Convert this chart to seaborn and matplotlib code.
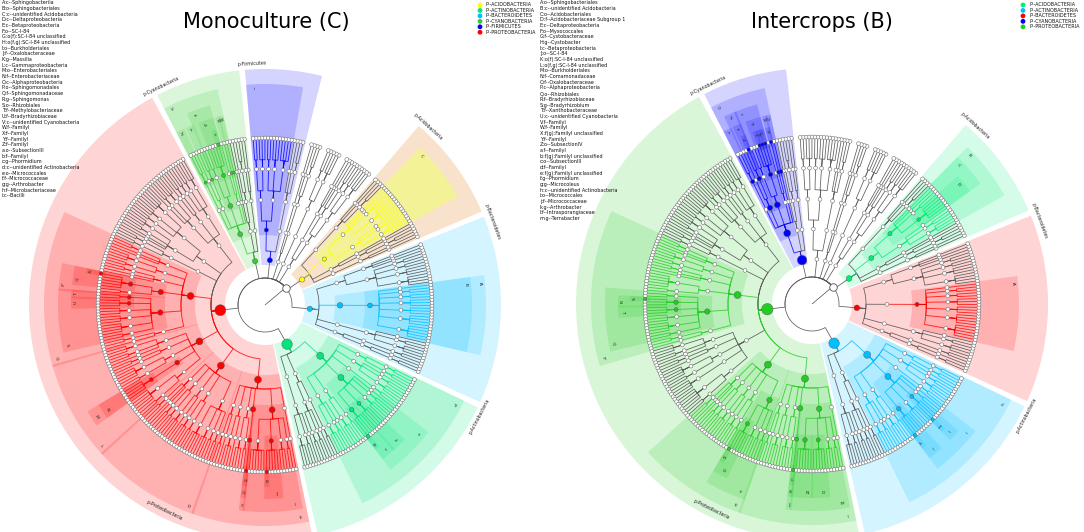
import numpy as np
import pandas as pd
import matplotlib
matplotlib.use("Agg")
import matplotlib.pyplot as plt
from matplotlib.collections import LineCollection, PolyCollection
import seaborn as sns

# ---------------------------------------------------------------- data
phylum_names = ["Bacteroidetes", "Acidobacteria", "Chloroflexi", "Gemmatimonadetes",
                "Planctomycetes", "Firmicutes", "Cyanobacteria", "Proteobacteria",
                "Actinobacteria"]
# taxonomy: phylum -> classes -> orders -> families (int = number of genera)
bacteroidetes = [[[2, 1], [2]], [[3, 2, 1]], [[5, 4, 3, 3, 2, 2, 1]], [[4, 3, 2, 2], [1, 1, 1]]]
acidobacteria = [[[1, 1]], [[2, 1], [1]], [[3, 2, 1], [5, 2, 1, 1]], [[2, 1, 1]]]
chloroflexi = [[[3, 2], [2, 1]], [[1, 1]]]
gemmatimonadetes = [[[3, 2]]]
planctomycetes = [[[2, 1]], [[1]]]
firmicutes = [[[2, 1, 1]], [[4, 3, 2], [3, 2]]]
cyanobacteria = [[[1, 1]], [[2, 1], [1]], [[1], [1, 1], [4, 2], [2, 1], [2]]]
proteobacteria = [[[3, 2, 2], [2, 1], [3, 2, 1]],
                  [[4, 3, 2], [3, 2, 1, 1]],
                  [[2, 2]],
                  [[2, 1, 1], [3, 2], [2, 1, 1], [5, 2], [2, 3, 3, 3, 4, 2], [2, 1]],
                  [[3, 2, 1], [2, 1], [4, 2], [4], [5, 2]],
                  [[2, 1, 1], [2, 2], [3, 1], [3, 2], [4, 3, 2, 2]],
                  [[2, 1], [3, 1], [3, 2], [1], [6, 5, 3, 2], [1]]]
actinobacteria = [[[3, 2, 1]], [[2, 2, 1], [2]],
                  [[3, 2, 1], [3, 2], [4, 4, 3, 2, 1], [2], [3, 2, 1], [2, 2]]]
trees = [bacteroidetes, acidobacteria, chloroflexi, gemmatimonadetes, planctomycetes,
         firmicutes, cyanobacteria, proteobacteria, actinobacteria]

# biomarkers: (label, taxonomy path, relative abundance weight)
left_highlights = [
    ("p-Bacteroidetes", (0,), 0.55), ("A", (0, 2), 0.8), ("B", (0, 2, 0), 0.8),
    ("p-Acidobacteria", (1,), 0.55), ("C", (1, 2), 0.6),
    ("p-Firmicutes", (5,), 0.55), ("i", (5, 1), 0.6),
    ("p-Cyanobacteria", (6,), 0.55), ("V", (6, 2), 0.7), ("W", (6, 2, 0, 0), 0.6),
    ("X", (6, 2, 1, 0), 0.6), ("Y", (6, 2, 3, 0), 0.6), ("Z", (6, 2, 4, 0), 0.6),
    ("a", (6, 2, 2), 0.8), ("b", (6, 2, 2, 0), 0.8), ("c", (6, 2, 2, 0, 0), 0.8),
    ("p-Proteobacteria", (7,), 1.15), ("D", (7, 5), 1.0), ("E", (7, 6), 1.0),
    ("F", (7, 6, 3), 0.9), ("G", (7, 6, 3, 0), 0.9), ("H", (7, 6, 3, 0, 0), 0.9),
    ("I", (7, 6, 4), 1.0), ("J", (7, 6, 4, 1), 0.9), ("K", (7, 6, 4, 1, 0), 0.9),
    ("L", (7, 4), 1.0), ("M", (7, 4, 3), 0.8), ("N", (7, 4, 3, 0), 0.8),
    ("O", (7, 3), 1.0), ("P", (7, 3, 3), 0.9), ("Q", (7, 3, 3, 0), 0.9),
    ("R", (7, 3, 3, 0, 0), 0.9), ("S", (7, 3, 4), 0.9), ("T", (7, 3, 4, 0), 0.8),
    ("U", (7, 3, 4, 1), 0.8),
    ("p-Actinobacteria", (8,), 1.1), ("d", (8, 2), 1.0), ("e", (8, 2, 2), 1.0),
    ("f", (8, 2, 2, 0), 0.9), ("g", (8, 2, 2, 0, 0), 0.9), ("h", (8, 2, 2, 1), 0.8),
]
right_highlights = [
    ("p-Bacteroidetes", (0,), 0.6), ("A", (0, 2, 0), 0.7),
    ("p-Acidobacteria", (1,), 0.6), ("B", (1, 2), 0.7), ("C", (1, 2, 1), 0.7),
    ("D", (1, 2, 1, 0), 0.7),
    ("p-Cyanobacteria", (6,), 1.0), ("U", (6, 2), 1.0), ("V", (6, 2, 0, 0), 0.8),
    ("W", (6, 2, 1, 0), 0.8), ("X", (6, 2, 1, 0, 0), 0.8), ("Y", (6, 2, 4, 0), 0.8),
    ("Z", (6, 2, 3), 0.9), ("a", (6, 2, 3, 0), 0.9), ("b", (6, 2, 3, 0, 0), 0.8),
    ("c", (6, 2, 2), 1.0), ("d", (6, 2, 2, 0), 0.9), ("e", (6, 2, 2, 0, 2), 0.8),
    ("f", (6, 2, 2, 0, 0), 0.8), ("g", (6, 2, 2, 0, 1), 0.8),
    ("p-Proteobacteria", (7,), 1.2), ("E", (7, 5), 1.0), ("F", (7, 5, 4), 0.9),
    ("G", (7, 5, 4, 0), 0.8), ("H", (7, 5, 4, 0, 0), 0.8), ("I", (7, 6), 1.0),
    ("J", (7, 6, 3), 0.9), ("K", (7, 6, 3, 0), 0.8), ("L", (7, 6, 3, 0, 0), 0.8),
    ("M", (7, 6, 4), 0.9), ("N", (7, 6, 4, 0), 0.9), ("O", (7, 6, 4, 1), 0.8),
    ("P", (7, 3), 1.0), ("Q", (7, 3, 4), 0.9), ("R", (7, 3, 4, 1), 0.9),
    ("S", (7, 3, 4, 1, 0), 0.8), ("T", (7, 3, 4, 2), 0.8),
    ("p-Actinobacteria", (8,), 1.1), ("h", (8, 2), 1.0), ("i", (8, 2, 2), 1.0),
    ("j", (8, 2, 2, 0), 0.9), ("k", (8, 2, 2, 0, 0), 0.9), ("l", (8, 2, 2, 2), 0.8),
    ("m", (8, 2, 2, 2, 0), 0.8),
]

left_colors = {"Acidobacteria": "#ffff00", "Actinobacteria": "#00e67a",
               "Bacteroidetes": "#00bfff", "Cyanobacteria": "#33cc33",
               "Firmicutes": "#0000ff", "Proteobacteria": "#ff0000"}
right_colors = {"Acidobacteria": "#00ee77", "Actinobacteria": "#00bfff",
                "Bacteroidetes": "#ff0000", "Cyanobacteria": "#0000ff",
                "Proteobacteria": "#22cc22"}

left_names = ["A:c--Sphingobacteriia", "B:o--Sphingobacteriales",
              "C:c--unidentified Acidobacteria", "D:c--Deltaproteobacteria",
              "E:c--Betaproteobacteria", "F:o--SC-I-84", "G:o(f):SC-I-84 unclassified",
              "H:o(f,g):SC-I-84 unclassified", "I:o--Burkholderiales",
              "J:f--Oxalobacteraceae", "K:g--Massilia", "L:c--Gammaproteobacteria",
              "M:o--Enterobacteriales", "N:f--Enterobacteriaceae",
              "O:c--Alphaproteobacteria", "P:o--Sphingomonadales",
              "Q:f--Sphingomonadaceae", "R:g--Sphingomonas", "S:o--Rhizobiales",
              "T:f--Methylobacteriaceae", "U:f--Bradyrhizobiaceae",
              "V:c--unidentified Cyanobacteria", "W:f--FamilyI", "X:f--FamilyI",
              "Y:f--FamilyI", "Z:f--FamilyI", "a:o--SubsectionIII", "b:f--FamilyI",
              "c:g--Phormidium", "d:c--unidentified Actinobacteria",
              "e:o--Micrococcales", "f:f--Micrococcaceae", "g:g--Arthrobacter",
              "h:f--Microbacteriaceae", "i:c--Bacilli"]
right_names = ["A:o--Sphingobacteriales", "B:c--unidentified Acidobacteria",
               "C:o--Acidobacteriales", "D:f--Acidobacteriaceae Subgroup 1",
               "E:c--Deltaproteobacteria", "F:o--Myxococcales", "G:f--Cystobacteraceae",
               "H:g--Cystobacter", "I:c--Betaproteobacteria", "J:o--SC-I-84",
               "K:o(f):SC-I-84 unclassified", "L:o(f,g):SC-I-84 unclassified",
               "M:o--Burkholderiales", "N:f--Comamonadaceae", "O:f--Oxalobacteraceae",
               "P:c--Alphaproteobacteria", "Q:o--Rhizobiales", "R:f--Bradyrhizobiaceae",
               "S:g--Bradyrhizobium", "T:f--Xanthobacteraceae",
               "U:c--unidentified Cyanobacteria", "V:f--FamilyI", "W:f--FamilyI",
               "X:f(g):FamilyI unclassified", "Y:f--FamilyI", "Z:o--SubsectionIV",
               "a:f--FamilyI", "b:f(g):FamilyI unclassified", "c:o--SubsectionIII",
               "d:f--FamilyI", "e:f(g):FamilyI unclassified", "f:g--Phormidium",
               "g:g--Microcoleus", "h:c--unidentified Actinobacteria",
               "i:o--Micrococcales", "j:f--Micrococcaceae", "k:g--Arthrobacter",
               "l:f--Intrasporangiaceae", "m:g--Terrabacter"]

# ---------------------------------------------------------------- style / layout
R = {0: 0.0, 1: 45.0, 2: 75.0, 3: 105.0, 4: 136.0, 5: 167.0}
WR = {1: 236.0, 2: 221.0, 3: 207.0, 4: 194.0, 5: 182.0}
BASE_D = {1: 9.5, 2: 7.0, 3: 6.0, 4: 5.0, 5: 4.3}
ROOT_ARC, ROOT_ANGLE = 27.0, 40.0
PHYLUM_LABEL_POS = {"p-Proteobacteria": (244.0, 229.0)}   # (angle, radius) overrides
PX = 1 / 1.3889  # px -> pt


def count_leaves(spec):
    if isinstance(spec, int):
        return max(spec, 1)
    return sum(count_leaves(s) for s in spec)


def build_tree(trees, start=-24.0, gap=2.0):
    total = sum(count_leaves(t) for t in trees)
    step = (360.0 - gap * len(trees)) / total
    nodes = {}
    state = {"cur": start + step / 2}

    def place(spec, path, level):
        kids = []
        if isinstance(spec, int):
            for g in range(spec):
                p = path + (g,)
                a = state["cur"]
                state["cur"] += step
                nodes[p] = dict(level=level + 1, angle=a, lo=a, hi=a, children=[])
                kids.append(p)
        else:
            for i, s in enumerate(spec):
                p = path + (i,)
                place(s, p, level + 1)
                kids.append(p)
        angs = [nodes[k]["angle"] for k in kids]
        nodes[path] = dict(level=level, angle=float(np.mean(angs)),
                           lo=min(nodes[k]["lo"] for k in kids),
                           hi=max(nodes[k]["hi"] for k in kids), children=kids)

    for i, t in enumerate(trees):
        place(t, (i,), 1)
        state["cur"] += gap
    nodes[()] = dict(level=0, angle=ROOT_ANGLE, lo=0, hi=0,
                     children=[(i,) for i in range(len(trees))])
    return nodes, step


nodes, step = build_tree(trees)

sns.set_theme(style="white")
plt.rcParams["font.family"] = ["DejaVu Sans"]
fig = plt.figure(figsize=(10.84, 5.32), dpi=100)
ax = fig.add_axes([0, 0, 1, 1])
ax.set_xlim(0, 1084)
ax.set_ylim(532, 0)
ax.axis("off")


def draw_panel(cx, cy, highlights, colors, wedge_fill, title, tx, names, lx, legx):
    def xy(r, a):
        t = np.deg2rad(a)
        return (cx + r * np.cos(t), cy - r * np.sin(t))

    hl = {path: (lab, w) for lab, path, w in highlights}

    def pcolor(path):
        return colors[phylum_names[path[0]]]

    # wedges
    polys, fcs = [], []
    for lab, path, w in sorted(highlights, key=lambda h: len(h[1])):
        n = nodes[path]
        L = n["level"]
        a0, a1 = n["lo"] - step / 2 - 0.3, n["hi"] + step / 2 + 0.3
        angs = np.linspace(a0, a1, 80)
        pts = [xy(WR[L], a) for a in angs] + [xy(R[L] - 5, a) for a in angs[::-1]]
        polys.append(pts)
        col = pcolor(path)
        if lab in wedge_fill:
            fcs.append(matplotlib.colors.to_rgba(wedge_fill[lab], 1.0))
        elif col == "#ffff00":
            fcs.append(matplotlib.colors.to_rgba("#f4f490", 0.9))
        else:
            fcs.append(matplotlib.colors.to_rgba(col, 0.17))
    ax.add_collection(PolyCollection(polys, facecolors=fcs, edgecolors="none", zorder=1))

    # edges
    gray, colsegs, colcols = [], [], []
    for p, n in nodes.items():
        if p == ():
            continue
        q = p[:-1]
        pn = nodes[q]
        rq = R[pn["level"]]
        rc = R[n["level"]]
        ra = ROOT_ARC if q == () else rq + 0.3 * (rc - rq)
        pts = [] if q == () else [xy(rq, pn["angle"])]
        k = max(2, int(abs(n["angle"] - pn["angle"]) / 1.5) + 2)
        pts += [xy(ra, a) for a in np.linspace(pn["angle"], n["angle"], k)]
        pts.append(xy(rc, n["angle"]))
        colored = any(p[:j] in hl for j in range(2, len(p) + 1))
        if colored:
            colsegs.append(pts)
            colcols.append(matplotlib.colors.to_rgba(pcolor(p), 0.8))
        else:
            gray.append(pts)
    gray.append([(cx, cy), xy(ROOT_ARC, ROOT_ANGLE)])
    ax.add_collection(LineCollection(gray, colors="#5c5c5c", linewidths=0.55, zorder=2))
    ax.add_collection(LineCollection(colsegs, colors=colcols, linewidths=0.65, zorder=2.5))

    # nodes
    rows = []
    for p, n in nodes.items():
        if p == ():
            continue
        x, y = xy(R[n["level"]], n["angle"])
        if p in hl:
            d = BASE_D[n["level"]] * hl[p][1]
            rows.append((x, y, pcolor(p), (d * PX) ** 2))
        else:
            rows.append((x, y, "#ffffff", (3.8 * PX) ** 2))
    df = pd.DataFrame(rows, columns=["x", "y", "fill", "s"])
    white = df[df.fill == "#ffffff"]
    sns.scatterplot(data=white, x="x", y="y", s=white["s"].values, color="white",
                    edgecolor="#707070", linewidth=0.4, legend=False, ax=ax, zorder=3)
    for col, g in df[df.fill != "#ffffff"].groupby("fill"):
        g = g.sort_values("s", ascending=False)
        sns.scatterplot(data=g, x="x", y="y", s=g["s"].values, color=col,
                        edgecolor="#555555", linewidth=0.3, legend=False, ax=ax, zorder=4)
    rx, ry = xy(ROOT_ARC, ROOT_ANGLE)
    ax.scatter([rx], [ry], s=(7.5 * PX) ** 2, c="white", edgecolors="#555555",
               linewidths=0.6, zorder=4)

    # clade labels
    for lab, path, w in highlights:
        n = nodes[path]
        L = n["level"]
        if lab.startswith("p-"):
            a, r = PHYLUM_LABEL_POS.get(lab, (n["hi"] - 1.0, WR[1] + 6))
            fs = 3.4
        else:
            span = n["hi"] - n["lo"] + step
            a = n["hi"] + step / 2 - min(1.6, span / 2)
            r = WR[L] - 5
            fs = 3.2
        rot = a - 90
        while rot <= -90:
            rot += 180
        while rot > 90:
            rot -= 180
        x, y = xy(r, a)
        ax.text(x, y, lab, fontsize=fs, rotation=rot, ha="center", va="center",
                color="#222222", zorder=5, rotation_mode="anchor")

    # title
    ax.text(tx, 22, title, fontsize=15, ha="center", va="center", color="black")
    # letter list
    for i, s in enumerate(names):
        ax.text(lx, 2.8 + 5.68 * i, s, fontsize=3.5, ha="left", va="center",
                color="#111111")
    # colour legend
    leg = sorted(colors.items())
    ldf = pd.DataFrame({"x": [legx] * len(leg), "y": [5 + 5.45 * i for i in range(len(leg))],
                        "c": [c for _, c in leg]})
    sns.scatterplot(data=ldf, x="x", y="y", hue="c", palette={c: c for c in ldf.c},
                    s=(4.8 * PX) ** 2, edgecolor="none", legend=False, ax=ax, zorder=5)
    for i, (nm, c) in enumerate(leg):
        ax.text(legx + 6, 5 + 5.45 * i, "P--" + nm.upper(), fontsize=3.5,
                ha="left", va="center", color="#111111")


draw_panel(265, 305, left_highlights, left_colors, {"p-Acidobacteria": "#f8e2cc"},
           "Monoculture (C)", 266, left_names, 2, 480)
draw_panel(812, 304, right_highlights, right_colors, {},
           "Intercrops (B)", 822, right_names, 540, 1023)

ax.set_xlim(0, 1084)
ax.set_ylim(532, 0)
fig.savefig("out.png", dpi=100)
